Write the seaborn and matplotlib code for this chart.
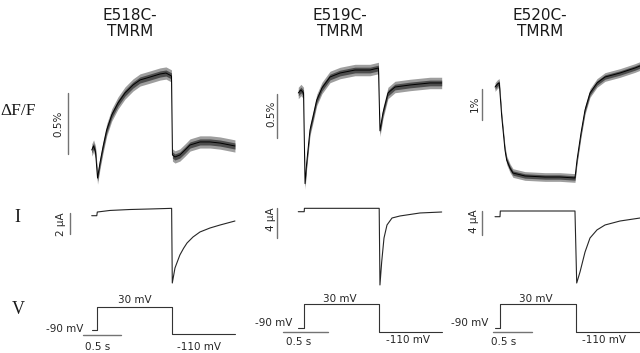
import matplotlib
matplotlib.use("Agg")
import matplotlib.pyplot as plt
import numpy as np
import pandas as pd
import seaborn as sns

# ---------------- data ----------------
titles = ["E518C-\nTMRM", "E519C-\nTMRM", "E520C-\nTMRM"]

# Fluorescence traces: time (s), dF/F (%)
f1_t = [-0.075, -0.05, -0.024, 0.003, 0.036, 0.077, 0.126, 0.194, 0.278, 0.372, 0.48,
        0.574, 0.708, 0.843, 0.923, 0.997, 1.01, 1.044, 1.11, 1.18, 1.246, 1.38, 1.515, 1.65, 1.85]
f1_v = [0.0, 0.033, -0.016, -0.23, -0.107, 0.025, 0.164, 0.287, 0.385, 0.467, 0.533,
        0.574, 0.598, 0.623, 0.631, 0.607, -0.041, -0.057, -0.041, 0.0, 0.041, 0.066, 0.066, 0.057, 0.033]
f2_t = [-0.079, -0.043, -0.009, 0.011, 0.033, 0.077, 0.117, 0.167, 0.237, 0.344, 0.477,
        0.677, 0.877, 0.99, 1.01, 1.05, 1.117, 1.21, 1.41, 1.677, 1.833]
f2_v = [0.0, 0.034, 0.0, -1.03, -0.795, -0.42, -0.273, -0.08, 0.057, 0.182, 0.227,
        0.261, 0.261, 0.284, -0.43, -0.227, 0.0, 0.068, 0.091, 0.114, 0.114]
f3_t = [-0.066, -0.033, -0.01, 0.023, 0.044, 0.066, 0.088, 0.132, 0.172, 0.331, 0.596,
        0.795, 0.993, 1.02, 1.073, 1.126, 1.192, 1.285, 1.391, 1.589, 1.788, 1.854]
f3_v = [-0.065, 0.032, 0.065, -1.03, -1.55, -2.1, -2.42, -2.68, -2.84, -2.935, -2.968,
        -2.968, -3.0, -2.42, -1.548, -0.806, -0.258, 0.065, 0.258, 0.387, 0.548, 0.613]
f_noise = [0.05, 0.065, 0.14]   # half-width of the noise band (%)

# Current traces: time (s), I (uA)
i1_t = [-0.075, -0.007, 0.0, 0.17, 0.44, 0.71, 0.999, 1.008, 1.044, 1.11, 1.16, 1.206, 1.286, 1.38, 1.515, 1.65, 1.85]
i1_v = [0.0, 0.0, 0.35, 0.5, 0.59, 0.64, 0.70, -6.41, -4.98, -3.74, -3.1, -2.6, -2.03, -1.55, -1.17, -0.886, -0.505]
i2_t = [-0.079, 0.0, 0.003, 1.0, 1.01, 1.033, 1.064, 1.104, 1.171, 1.277, 1.544, 1.833]
i2_v = [0.0, 0.0, 0.45, 0.45, -9.77, -6.71, -3.51, -1.77, -0.84, -0.57, -0.17, -0.04]
i3_t = [-0.066, 0.0, 0.004, 0.993, 1.016, 1.06, 1.126, 1.192, 1.285, 1.391, 1.589, 1.854]
i3_v = [0.0, 0.0, 0.95, 0.95, -11.05, -9.2, -5.9, -3.55, -2.2, -1.38, -0.72, -0.22]

# Voltage protocol: time (s), V (mV)
v_levels = [-90, -90, 30, 30, -110, -110]
v1_t = [-0.075, 0.0, 0.0, 1.0, 1.0, 1.85]
v2_t = [-0.079, 0.0, 0.0, 1.0, 1.0, 1.833]
v3_t = [-0.066, 0.0, 0.0, 1.0, 1.0, 1.854]

# scale bars
f_bar = [0.5, 0.5, 1.0]           # %
f_bar_label = ["0.5%", "0.5%", "1%"]
i_bar = [2, 4, 4]                 # uA
i_bar_label = ["2 µA", "4 µA", "4 µA"]
t_bar_label = "0.5 s"

# ---------------- layout (pixels) ----------------
W, H = 640, 353
col_t0 = [97.3, 304.2, 500.0]     # pixel x of step onset
col_pps = [74.4, 75.0, 75.5]      # pixels per second
f_y0 = [150, 93, 85];  f_ppu = [122, 88, 31]
i_y0 = [215.7, 211.7, 216.7]; i_ppu = [10.5, 7.5, 6.0]
v_y0 = [330, 327.7, 327.7]; v_ppu = [0.194, 0.195, 0.195]

sns.set_theme(style="white")
plt.rcParams["font.family"] = ["DejaVu Sans"]

fig = plt.figure(figsize=(W / 100, H / 100), dpi=100)
fig.patch.set_facecolor("white")


def make_ax(c, y0, ppu, base):
    ax = fig.add_axes([0, 0, 1, 1])
    ax.set_axis_off()
    ax.patch.set_alpha(0)
    t0, pps = col_t0[c], col_pps[c]
    ax.set_xlim(-t0 / pps, (W - t0) / pps)
    ax.set_ylim(base - (H - y0) / ppu, base + y0 / ppu)
    return ax


def px_t(c, x):
    return (x - col_t0[c]) / col_pps[c]


F = [(f1_t, f1_v), (f2_t, f2_v), (f3_t, f3_v)]
I = [(i1_t, i1_v), (i2_t, i2_v), (i3_t, i3_v)]
VT = [v1_t, v2_t, v3_t]

f_bar_px = [(67.7, 92.7), (277, 94), (481.5, 89)]     # x, top y
i_bar_px = [(70, 213), (277, 208), (481.5, 211)]
t_bar_px = [(82.7, 121, 335), (283.3, 327.7, 332.3), (493.3, 531.7, 332.3)]

bar_col = "0.45"
for c in range(3):
    # fluorescence
    ax = make_ax(c, f_y0[c], f_ppu[c], 0.0)
    t, v = np.array(F[c][0]), np.array(F[c][1])
    hw = f_noise[c]
    ax.fill_between(t, v - hw, v + hw, color="0.62", lw=0)
    ax.fill_between(t, v - 0.5 * hw, v + 0.5 * hw, color="0.3", lw=0)
    sns.lineplot(x=t, y=v, ax=ax, estimator=None, sort=False, color="black", lw=0.7)
    bx, by = f_bar_px[c]
    top = (f_y0[c] - by) / f_ppu[c]
    ax.plot([px_t(c, bx)] * 2, [top, top - f_bar[c]], color=bar_col, lw=1.0)

    # current
    ax = make_ax(c, i_y0[c], i_ppu[c], 0.0)
    sns.lineplot(x=I[c][0], y=I[c][1], ax=ax, estimator=None, sort=False, color="0.15", lw=0.8)
    bx, by = i_bar_px[c]
    top = (i_y0[c] - by) / i_ppu[c]
    ax.plot([px_t(c, bx)] * 2, [top, top - i_bar[c]], color=bar_col, lw=1.0)

    # voltage
    ax = make_ax(c, v_y0[c], v_ppu[c], -90.0)
    sns.lineplot(x=VT[c], y=v_levels, ax=ax, estimator=None, sort=False, color="0.2", lw=0.8)
    x1, x2, by = t_bar_px[c]
    yv = -90 - (by - v_y0[c]) / v_ppu[c]
    ax.plot([px_t(c, x1), px_t(c, x2)], [yv, yv], color=bar_col, lw=1.0)


def ftext(x, y, s, **kw):
    fig.text(x / W, 1 - y / H, s, **kw)


# titles
title_x = [130, 340, 540]
for c in range(3):
    l1, l2 = titles[c].split("\n")
    ftext(title_x[c], 20, l1, ha="center", va="baseline", fontsize=11, color="0.1")
    ftext(title_x[c], 35.5, l2, ha="center", va="baseline", fontsize=11, color="0.1")

# row labels
serif = ["Liberation Serif", "DejaVu Serif"]
ftext(0, 115, "ΔF/F", ha="left", va="baseline", fontsize=12.5, family=serif, color="0.1")
ftext(14, 222, "I", ha="left", va="baseline", fontsize=13, family=serif, color="0.1")
ftext(12, 314, "V", ha="left", va="baseline", fontsize=13, family=serif, color="0.1")

# scale-bar labels
f_lab_px = [(58, 124), (271, 114), (475, 104)]
i_lab_px = [(61.5, 224), (271, 219), (474, 221)]
for c in range(3):
    ftext(*f_lab_px[c], f_bar_label[c], rotation=90, ha="center", va="center", fontsize=7.5, color="0.15")
    ftext(*i_lab_px[c], i_bar_label[c], rotation=90, ha="center", va="center", fontsize=7.5, color="0.15")

# voltage labels
v_lab = [
    [(64.2, 332.5), (134.5, 303.3), (97.5, 350), (199, 350)],
    [(273.3, 325.7), (340, 302), (299, 345), (408, 343)],
    [(469.3, 325.7), (536.3, 302), (504, 345), (604, 343)],
]
v_texts = ["-90 mV", "30 mV", t_bar_label, "-110 mV"]
for c in range(3):
    for (x, y), s in zip(v_lab[c], v_texts):
        ftext(x, y, s, ha="center", va="baseline", fontsize=7.5, color="0.15")

fig.savefig("out.png", dpi=100, facecolor="white")
